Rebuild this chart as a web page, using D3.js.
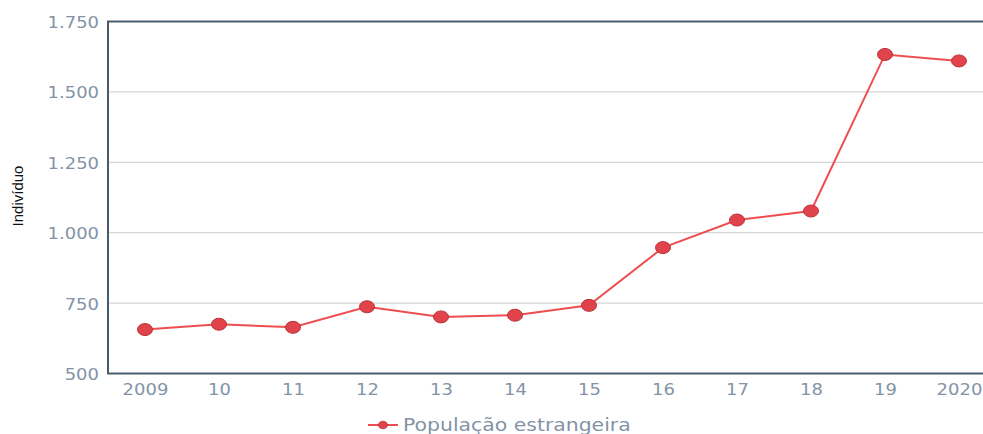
<!DOCTYPE html>
<html><head><meta charset="utf-8">
<script src="https://cdn.jsdelivr.net/npm/d3@7"></script>
<style>html,body{margin:0;padding:0;background:#fff;overflow:hidden}</style>
</head><body>
<svg id="c" width="983" height="434"></svg>
<script>
const years = ["2009","10","11","12","13","14","15","16","17","18","19","2020"];
const populacao = [656, 675, 664, 737, 701, 707, 742, 947, 1045, 1077, 1633, 1610];
const yTicks = [500, 750, 1000, 1250, 1500, 1750];
const seriesName = "População estrangeira";
const yTitle = "Indivíduo";

const svg = d3.select("#c");
const mLeft = 108, mRight = 996, mTop = 21.5, mBottom = 373.5;
const x = d3.scalePoint().domain(years).range([mLeft, mRight]).padding(0.5);
const y = d3.scaleLinear().domain([500, 1750]).range([mBottom, mTop]);
const fmt = v => d3.format(",")(v).replace(/,/g, ".");
const labelColor = "#8393a6";
const axisColor = "#4b5b6e";
const stretch = 1.09;

// gridlines
svg.append("g").selectAll("line").data(yTicks.slice(1, -1)).join("line")
  .attr("x1", mLeft).attr("x2", mRight)
  .attr("y1", d => y(d)).attr("y2", d => y(d))
  .attr("stroke", "#d6d6d6").attr("stroke-width", 1.2);

// y axis labels
const yAxis = svg.append("g").attr("transform", `translate(${mLeft},0)`)
  .call(d3.axisLeft(y).tickValues(yTicks).tickFormat(fmt).tickSize(0).tickPadding(9));
yAxis.select(".domain").remove();
yAxis.selectAll("text").attr("fill", labelColor)
  .style("font-family", "DejaVu Sans, sans-serif").style("font-size", "16.5px")
  .attr("x", -9 / stretch).attr("dy", "0.36em")
  .attr("transform", `scale(${stretch},1)`);

// x axis labels
const xAxis = svg.append("g").attr("transform", `translate(0,${mBottom})`)
  .call(d3.axisBottom(x).tickSize(0).tickPadding(9));
xAxis.select(".domain").remove();
xAxis.selectAll("text").attr("fill", labelColor)
  .style("font-family", "DejaVu Sans, sans-serif").style("font-size", "16.5px")
  .attr("dy", "0.75em")
  .attr("transform", `scale(${stretch},1)`);

// frame
svg.append("rect").attr("x", mLeft).attr("y", mTop)
  .attr("width", mRight - mLeft).attr("height", mBottom - mTop)
  .attr("fill", "none").attr("stroke", axisColor).attr("stroke-width", 2);

// y title
svg.append("text").attr("transform", "translate(23,196) rotate(-90)")
  .attr("text-anchor", "middle").attr("fill", "#111")
  .style("font-family", "Liberation Sans, Arial, sans-serif").style("font-size", "15px")
  .text(yTitle);

// line
const line = d3.line().x((d, i) => x(years[i])).y(d => y(d));
svg.append("path").datum(populacao).attr("d", line)
  .attr("fill", "none").attr("stroke", "#ee4e50").attr("stroke-width", 2);

svg.append("g").selectAll("ellipse").data(populacao).join("ellipse")
  .attr("cx", (d, i) => x(years[i])).attr("cy", d => y(d))
  .attr("rx", 7.5).attr("ry", 6)
  .attr("fill", "#e0444a").attr("stroke", "#b83438").attr("stroke-width", 1);

// legend
const lg = svg.append("g").attr("transform", "translate(368,425)");
lg.append("line").attr("x1", 0).attr("x2", 30).attr("y1", 0).attr("y2", 0)
  .attr("stroke", "#ee4e50").attr("stroke-width", 2);
lg.append("ellipse").attr("cx", 15).attr("cy", 0).attr("rx", 4.5).attr("ry", 3.8)
  .attr("fill", "#e0444a").attr("stroke", "#b83438").attr("stroke-width", 0.8);
lg.append("text").attr("transform", "translate(35,0) scale(1.2,1)").attr("dy", "0.36em")
  .attr("fill", labelColor)
  .style("font-family", "DejaVu Sans, sans-serif").style("font-size", "17px")
  .text(seriesName);
</script>
</body></html>
